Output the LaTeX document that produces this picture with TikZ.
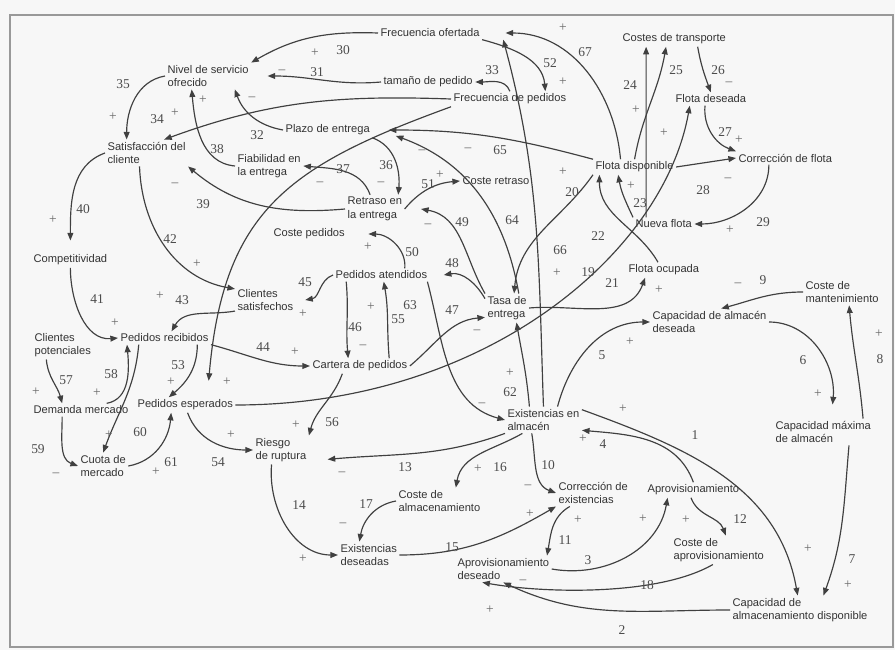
\documentclass[tikz,border=0pt]{standalone}
\usepackage{fontspec}
\setsansfont{Liberation Sans}
\newfontfamily\numfont{Liberation Serif}
\usetikzlibrary{arrows.meta}

\begin{document}
\begin{tikzpicture}[x=0.03cm, y=-0.03cm,
    var/.style={anchor=west, align=left, inner sep=2pt, text=black!80, font=\sffamily\fontsize{9.5}{11.5}\selectfont},
    arr/.style={-{Triangle[length=6.5pt,width=5pt]}, line width=1pt, draw=black!75},
    num/.style={inner sep=0pt, text=black!70, font=\numfont\fontsize{11.5}{12}\selectfont},
    sgn/.style={inner sep=0pt, text=black!60, font=\numfont\fontsize{11.5}{12}\selectfont}
]
\fill[black!3] (0,0) rectangle (895,650);
\draw[black!40, line width=1.2pt] (10,15) rectangle (893,647);
\useasboundingbox (0,0) rectangle (895,650);

% variables
\node[var] (FO) at (378,33) {Frecuencia ofertada};
\node[var] (NS) at (165,76) {Nivel de servicio\\ofrecido};
\node[var] (TP) at (381,82) {tamaño de pedido};
\node[var] (FP) at (451,99) {Frecuencia de pedidos};
\node[var] (CT) at (620,39) {Costes de transporte};
\node[var] (FD) at (673,99) {Flota deseada};
\node[var] (SC) at (105,153) {Satisfacción del\\cliente};
\node[var] (PE) at (283,130) {Plazo de entrega};
\node[var] (FE) at (235,166) {Fiabilidad en\\la entrega};
\node[var] (RE) at (345,209) {Retraso en\\la entrega};
\node[var] (CR) at (460,181) {Coste retraso};
\node[var] (FLD) at (593,167) {Flota disponible};
\node[var] (CF) at (736,158) {Corrección de flota};
\node[var] (NF) at (633,224) {Nueva flota};
\node[var] (CP) at (271,234) {Coste pedidos};
\node[var] (PA) at (333,275) {Pedidos atendidos};
\node[var] (FOC) at (626,270) {Flota ocupada};
\node[var] (CS) at (235,300) {Clientes\\satisfechos};
\node[var] (CO) at (31,260) {Competitividad};
\node[var] (TE) at (485,308) {Tasa de\\entrega};
\node[var] (CM) at (803,292) {Coste de\\mantenimiento};
\node[var] (CAD) at (650,322) {Capacidad de almacén\\deseada};
\node[var] (CLP) at (32,345) {Clientes\\potenciales};
\node[var] (PR) at (118,338) {Pedidos recibidos};
\node[var] (CAR) at (310,366) {Cartera de pedidos};
\node[var] (DM) at (31,410) {Demanda mercado};
\node[var] (PES) at (135,405) {Pedidos esperados};
\node[var] (EA) at (505,420) {Existencias en\\almacén};
\node[var] (CMA) at (773,432) {Capacidad máxima\\de almacén};
\node[var] (RR) at (253,450) {Riesgo\\de ruptura};
\node[var] (CUM) at (78,466) {Cuota de\\mercado};
\node[var] (CAL) at (396,501) {Coste de\\almacenamiento};
\node[var] (CEX) at (556,493) {Corrección de\\existencias};
\node[var] (AP) at (645,490) {Aprovisionamiento};
\node[var] (EDS) at (338,555) {Existencias\\deseadas};
\node[var] (APD) at (455,569) {Aprovisionamiento\\deseado};
\node[var] (CAP) at (671,550) {Coste de\\aprovisionamiento};
\node[var] (CDI) at (730,610) {Capacidad de\\almacenamiento disponible};

% upper part
\draw[arr] (FO.west) to[out=178,in=30] (NS.north east) node[sgn] at (315,53) {+} node[num] at (343,50) {30};
\draw[arr] (TP.west) to[out=185,in=0] ([xshift=14pt]NS.east) node[sgn] at (282,72) {–} node[num] at (317,72) {31};
\draw[arr] (PE.west) to[out=170,in=-70] ([xshift=-14pt]NS.south east) node[sgn] at (252,99) {–} node[num] at (257,135) {32};
\draw[arr] (FP.north) to[out=110,in=0] (TP.east) node[num] at (492,70) {33};
\draw[arr] (NS.west) to[out=190,in=90] ([xshift=-17pt]SC.north) node[num] at (123,84) {35} node[sgn] at (113,117) {+};
\draw[arr] (FP.west) to[out=178,in=20] ([xshift=15pt]SC.north) node[num] at (157,119) {34} node[sgn] at (175,113) {+};
\draw[arr] (FP.south west) to[out=200,in=85,looseness=1.2] ([shift={(20pt,14pt)}]PES.north) node[sgn] at (227,382) {+};
\draw[arr] (FO.south east) to[out=-15,in=95] ([xshift=-20pt]FP.north east) node[num] at (550,63) {52} node[sgn] at (563,82) {+};
\draw[arr] ([xshift=-12pt]FLD.north) to[out=95,in=0] ([xshift=20pt]FO.east) node[sgn] at (563,28) {+} node[num] at (585,52) {67};
\draw[arr] (EA.north) to[out=92,in=-75] ([xshift=18pt]FO.south east) node[num] at (560,250) {66} node[sgn] at (557,273) {+};

% fleet
\draw[arr] (FLD.north) to[out=80,in=-100] ([xshift=-7pt]CT.south) node[num] at (676,70) {25} node[sgn] at (664,133) {+};
\draw[arr] ([xshift=-15pt]NF.north) -- ([xshift=-24pt]CT.south) node[num] at (630,85) {24} node[sgn] at (636,110) {+};
\draw[arr] ([xshift=20pt]CT.south) to[out=-80,in=110] (FD.north) node[num] at (718,70) {26} node[sgn] at (729,84) {–};
\draw[arr] ([xshift=-5pt]FD.south) to[out=-95,in=160] (CF.north west) node[num] at (725,132) {27} node[sgn] at (739,140) {+};
\draw[arr] (FLD.east) -- (CF.west) node[num] at (703,190) {28} node[sgn] at (728,180) {–};
\draw[arr] ([xshift=-14pt]CF.south) to[out=-90,in=0] (NF.east) node[num] at (763,222) {29} node[sgn] at (730,230) {+};
\draw[arr] (NF.north west) to[out=115,in=-80] ([xshift=-14pt]FLD.south) node[sgn] at (631,186) {+} node[num] at (640,203) {23};
\draw[arr] ([xshift=-5pt]FOC.north) to[out=120,in=-90] ([xshift=-30pt]FLD.south) node[num] at (598,236) {22};
\draw[arr] (FLD.south west) to[out=235,in=85] ([xshift=6pt]TE.north) node[sgn] at (563,172) {+} node[num] at (572,192) {20};
\draw[arr] (FLD.north west) to[out=165,in=0] ([xshift=14pt]PE.east) node[sgn] at (468,150) {–} node[num] at (500,150) {65};

% delivery
\draw[arr] ([xshift=10pt]TE.north) to[out=100,in=-20] ([shift={(20pt,-5pt)}]PE.east) node[num] at (512,220) {64} node[sgn] at (422,152) {–};
\draw[arr] (TE.north west) to[out=120,in=-10] ([xshift=14pt]RE.east) node[num] at (462,222) {49} node[sgn] at (428,226) {–};
\draw[arr] ([xshift=-12pt]EA.north) to[out=95,in=-80] ([xshift=8pt]TE.south) node[num] at (510,392) {62} node[sgn] at (510,373) {+};
\draw[arr] (TE.east) to[out=5,in=-110] ([xshift=-16pt]FOC.south) node[num] at (612,283) {21} node[sgn] at (659,290) {+};
\draw[arr] (PES.east) to[out=0,in=-100,out looseness=1.18,in looseness=0.7] ([xshift=-18pt]FD.south) node[num] at (588,272) {19};
\draw[arr] (CAR.east) to[out=40,in=185] ([yshift=-8pt]TE.west) node[num] at (452,310) {47} node[sgn] at (477,332) {–};
\draw[arr] ([yshift=8pt]TE.west) to[out=120,in=10] ([xshift=12pt]PA.east) node[num] at (452,263) {48};
\draw[arr] ([xshift=-2pt]PA.south east) to[out=-75,in=165] (EA.west) node[num] at (410,305) {63} node[sgn] at (482,405) {–};
\draw[arr] ([xshift=25pt]CAR.north) to[out=95,in=-80] ([xshift=2pt]PA.south) node[num] at (398,319) {55} node[sgn] at (371,307) {+};
\draw[arr] ([xshift=-30pt]PA.south) to[out=-85,in=95] ([xshift=-10pt]CAR.north) node[num] at (355,327) {46} node[sgn] at (363,347) {–};
\draw[arr] (PA.west) to[out=200,in=10] ([xshift=8pt]CS.east) node[num] at (305,282) {45} node[sgn] at (303,314) {+};
\draw[arr] ([xshift=20pt]PA.north) to[out=85,in=0] ([xshift=18pt]CP.east) node[num] at (412,252) {50} node[sgn] at (368,247) {+};
\draw[arr] (PR.south east) to[out=-15,in=180] (CAR.west) node[num] at (263,347) {44} node[sgn] at (295,352) {+};

% delay and satisfaction
\draw[arr] (FE.west) to[out=175,in=-85] ([xshift=-14pt]NS.south) node[num] at (217,149) {38} node[sgn] at (203,100) {+};
\draw[arr] (RE.west) to[out=185,in=-40] (SC.south east) node[num] at (203,204) {39} node[sgn] at (175,185) {–};
\draw[arr] ([xshift=-4pt]RE.north) to[out=110,in=-5] (FE.east) node[num] at (343,169) {37} node[sgn] at (320,184) {–};
\draw[arr] (PE.south east) to[out=-20,in=85] ([xshift=20pt]RE.north) node[num] at (386,165) {36} node[sgn] at (381,184) {–};
\draw[arr] (RE.east) to[out=50,in=185] (CR.west) node[num] at (428,184) {51} node[sgn] at (440,175) {+};
\draw[arr] ([xshift=-6pt]SC.south) to[out=-88,in=170] (CS.160) node[num] at (170,239) {42} node[sgn] at (197,264) {+};
\draw[arr] (SC.west) to[out=200,in=90] ([yshift=10pt]CO.north) node[num] at (83,209) {40} node[sgn] at (53,220) {+};
\draw[arr] (CO.south) to[out=-90,in=185] (PR.west) node[num] at (97,299) {41} node[sgn] at (115,323) {+};
\draw[arr] (CS.200) to[out=190,in=60] ([xshift=6pt]PR.north) node[num] at (182,300) {43} node[sgn] at (160,296) {+};

% market
\draw[arr] ([xshift=-14pt]CLP.south) to[out=-85,in=105] ([xshift=-16pt]DM.north) node[num] at (66,380) {57} node[sgn] at (36,392) {+};
\draw[arr] ([xshift=22pt]DM.north) to[out=10,in=-85] ([xshift=-32pt]PR.south) node[num] at (111,374) {58} node[sgn] at (97,393) {+};
\draw[arr] ([xshift=-16pt]DM.south) to[out=-90,in=160] (CUM.west) node[num] at (38,449) {59} node[sgn] at (56,475) {–};
\draw[arr] ([xshift=-22pt]PR.south) to[out=-95,in=70] (CUM.north) node[num] at (140,432) {60} node[sgn] at (109,435) {+};
\draw[arr] (CUM.east) to[out=10,in=-95] ([xshift=-12pt]PES.south) node[num] at (171,462) {61} node[sgn] at (156,472) {+};
\draw[arr] ([xshift=28pt]PR.south) to[out=-90,in=40] ([xshift=-14pt]PES.north) node[num] at (178,365) {53} node[sgn] at (171,382) {+};
\draw[arr] ([xshift=2pt]PES.south) to[out=-70,in=180] (RR.west) node[num] at (218,462) {54} node[sgn] at (231,435) {+};
\draw[arr] ([xshift=-15pt]CAR.south) to[out=-110,in=75] (RR.north east) node[num] at (332,422) {56} node[sgn] at (296,425) {+};

% stock
\draw[arr] ([xshift=12pt]EA.north) to[out=75,in=180] (CAD.west) node[num] at (602,355) {5} node[sgn] at (630,342) {+};
\draw[arr] (EA.15) to[out=-20,in=100] ([xshift=-2pt]CDI.north) node[sgn] at (623,409) {+} node[num] at (695,435) {1} node[sgn] at (808,549) {+};
\draw[arr] (AP.north) to[out=110,in=-5] (EA.-15) node[sgn] at (583,439) {+} node[num] at (603,444) {4};
\draw[arr] ([xshift=-10pt]EA.south) to[out=-80,in=160] (CEX.west) node[num] at (548,465) {10} node[sgn] at (528,487) {–};
\draw[arr] ([xshift=-18pt]EA.south) to[out=210,in=80] ([xshift=14pt]CAL.north) node[sgn] at (478,469) {+} node[num] at (500,467) {16};
\draw[arr] (EA.south west) to[out=200,in=5] ([shift={(16pt,-8pt)}]RR.east) node[num] at (405,467) {13} node[sgn] at (342,474) {–};
\draw[arr] ([xshift=-8pt]RR.south) to[out=-95,in=180] (EDS.west) node[num] at (299,505) {14} node[sgn] at (303,559) {+};
\draw[arr] (CAL.west) to[out=190,in=80] ([xshift=-8pt]EDS.north) node[num] at (366,504) {17} node[sgn] at (343,525) {–};
\draw[arr] (EDS.east) to[out=0,in=-150] (CEX.south west) node[num] at (452,547) {15} node[sgn] at (530,514) {+};
\draw[arr] ([xshift=-20pt]CEX.south) to[out=-150,in=80] ([xshift=-4pt]APD.north east) node[num] at (565,540) {11} node[sgn] at (578,520) {+};
\draw[arr] (APD.east) to[out=-10,in=-100] ([xshift=-22pt]AP.south) node[num] at (588,560) {3} node[sgn] at (643,519) {+};
\draw[arr] ([xshift=-2pt]AP.south) to[out=-70,in=110] ([xshift=6pt]CAP.north) node[num] at (740,519) {12} node[sgn] at (686,520) {+};
\draw[arr] ([xshift=-5pt]CAP.south) to[out=-150,in=-10,looseness=0.7] ([xshift=-18pt]APD.south) node[num] at (647,585) {18} node[sgn] at (523,582) {–};
\draw[arr] (CDI.west) to[out=180,in=-25] (APD.south) node[num] at (622,630) {2} node[sgn] at (490,610) {+};

% capacity
\draw[arr] (CAD.east) to[out=0,in=85] ([shift={(8pt,12pt)}]CMA.north) node[num] at (803,360) {6} node[sgn] at (818,394) {+};
\draw[arr] ([xshift=22pt]CMA.south) to[out=-95,in=70] ([xshift=20pt]CDI.north) node[num] at (852,559) {7} node[sgn] at (848,585) {+};
\draw[arr] ([xshift=34pt]CMA.north) to[out=95,in=-85] ([xshift=6pt]CM.south) node[num] at (880,359) {8} node[sgn] at (879,334) {+};
\draw[arr] (CM.west) to[out=180,in=15] ([xshift=10pt]CAD.north) node[num] at (763,280) {9} node[sgn] at (738,285) {–};
\end{tikzpicture}
\end{document}
